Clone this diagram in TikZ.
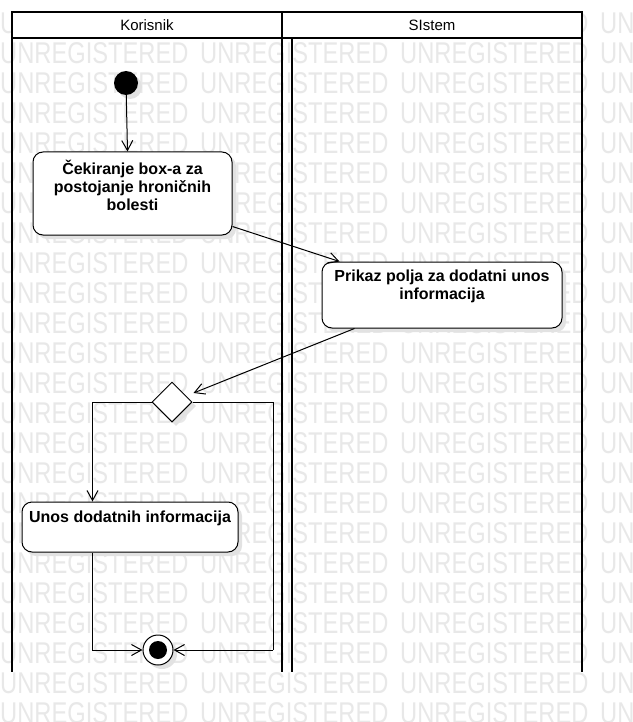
\documentclass[tikz,border=0pt]{standalone}
\usepackage{fontspec}
\setmainfont{Liberation Sans}
\usepackage{graphicx}
\usetikzlibrary{arrows.meta,shapes.geometric,shadows,calc}
\definecolor{wm}{RGB}{232,232,232}
\definecolor{shad}{RGB}{226,226,226}
\begin{document}
\begin{tikzpicture}[x=1pt,y=-1pt,
  lane/.style={line width=2pt},
  shd/.style={drop shadow={shadow xshift=4pt,shadow yshift=-4pt,fill=shad,opacity=1}},
  act/.style={draw, fill=white, rounded corners=10pt, line width=1pt, inner sep=0pt, shd},
  txt/.style={font=\fontsize{16}{18}\selectfont\bfseries, align=center, inner sep=0pt},
  hdr/.style={font=\fontsize{15}{18}\selectfont, inner sep=0pt},
  wmtext/.style={font=\fontsize{30}{30}\selectfont, text=wm, inner sep=0pt, anchor=west},
  arr/.style={line width=1pt, -{Straight Barb[length=10pt,width=11pt,line width=1pt]}},
  conn/.style={line width=1pt}
]
\useasboundingbox (0,0) rectangle (632,722);
\fill[white] (0,0) rectangle (632,722);
% watermark
\foreach \r in {0,...,23}{
  \foreach \c in {0,...,3}{
    \node[wmtext] (wm-\r-\c) at (200*\c, 23+30*\r) {\scalebox{0.79}[1]{UNREGISTERED}};
  }
}
% header
\draw[lane, fill=white] (12,12) rectangle (582,38);
\draw[lane] (282,12) -- (282,38);
\node[hdr] (hk) at (147,25) {Korisnik};
\node[hdr] (hs) at (432,25) {SIstem};
% lanes
\draw[lane] (12,38) -- (12,672);
\draw[lane] (282,38) -- (282,672);
\draw[lane] (292,38) -- (292,672);
\draw[lane] (582,38) -- (582,672);
% nodes
\node[circle, fill=black, minimum size=24pt, inner sep=0pt, shd] (start) at (126,83) {};
\node[act, minimum width=199pt, minimum height=83pt] (b1) at (132.5,193.5) {};
\node[txt] (t1) at (132.5,185) {Čekiranje box-a za\\postojanje hroničnih\\bolesti};
\node[act, minimum width=240pt, minimum height=66pt] (b2) at (442,295) {};
\node[txt] (t2) at (442,286) {Prikaz polja za dodatni unos\\informacija};
\node[diamond, draw, fill=white, line width=1pt, minimum width=40pt, minimum height=40pt, inner sep=0pt, shd] (d) at (172,402) {};
\node[act, minimum width=216pt, minimum height=50pt] (b3) at (130,527) {};
\node[txt] (t3) at (130,518) {Unos dodatnih informacija};
\node[circle, draw, fill=white, line width=1pt, minimum size=30pt, inner sep=0pt, shd] (fin) at (158,650) {};
\node[circle, fill=black, minimum size=18pt, inner sep=0pt] (findot) at (fin) {};
\coordinate (rc) at (273,650);
% connectors
\draw[arr] (start) -- ($(b1.north west)+(95,0)$);
\draw[arr] ($(b1.south east)+(0,-9)$) -- ($(b2.north west)+(18,0)$);
\draw[arr] ($(b2.south west)+(33,0)$) -- ($(d.east)+(1,-9)$);
\draw[arr] (d.west) -| ($(b3.north west)+(71,0)$);
\draw[conn] (d.east) -| (rc);
\draw[arr] (rc) -- (fin);
\draw[arr] ($(b3.south west)+(71,0)$) |- (fin);
\end{tikzpicture}
\end{document}
